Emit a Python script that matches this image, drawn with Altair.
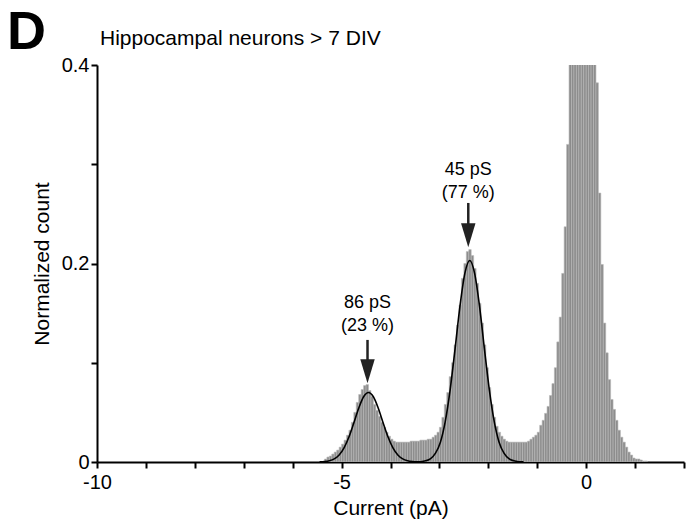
import altair as alt
import pandas as pd

# ---------------- data ----------------
bin_width = 0.05
first_bin = -5.35
counts = [
    # -5.35 .. -4.00
    0.003, 0.005, 0.006, 0.008, 0.010, 0.012, 0.015, 0.018, 0.022, 0.027,
    0.032, 0.040, 0.050, 0.060, 0.068, 0.073, 0.077, 0.078, 0.072, 0.066,
    0.058, 0.052, 0.046, 0.040, 0.035, 0.030, 0.026, 0.023,
    # -3.95 .. -3.00
    0.021, 0.020, 0.020, 0.020, 0.020, 0.020, 0.020, 0.021, 0.021, 0.021,
    0.021, 0.022, 0.022, 0.022, 0.023, 0.023, 0.025, 0.027, 0.030, 0.035,
    # -2.95 .. -2.00
    0.045, 0.058, 0.070, 0.086, 0.100, 0.118, 0.138, 0.158, 0.185, 0.200,
    0.212, 0.214, 0.208, 0.195, 0.180, 0.160, 0.140, 0.118, 0.095, 0.075,
    # -1.95 .. -1.00
    0.058, 0.045, 0.036, 0.030, 0.026, 0.023, 0.021, 0.020, 0.020, 0.020,
    0.020, 0.020, 0.020, 0.020, 0.020, 0.021, 0.023, 0.025, 0.027, 0.030,
    # -0.95 .. 0.00
    0.037, 0.042, 0.049, 0.056, 0.067, 0.079, 0.095, 0.121, 0.146, 0.190,
    0.237, 0.320, 0.450, 0.520, 0.600, 0.660, 0.700, 0.720, 0.720, 0.700,
    # 0.05 .. 1.20
    0.640, 0.560, 0.470, 0.382, 0.271, 0.199, 0.140, 0.110, 0.083, 0.063,
    0.053, 0.042, 0.032, 0.025, 0.020, 0.015, 0.010, 0.007, 0.004, 0.003,
    0.003, 0.002, 0.001, 0.001,
]
bin_start = [round(first_bin + i * bin_width, 2) for i in range(len(counts))]
bin_end = [round(b + bin_width, 2) for b in bin_start]

# fitted curve 1 (86 pS)
fit1_x = [-5.45, -5.35, -5.25, -5.15, -5.05, -4.95, -4.85, -4.75, -4.65, -4.55,
          -4.45, -4.35, -4.25, -4.15, -4.05, -3.95, -3.85, -3.75, -3.65, -3.55, -3.45]
fit1_y = [0.0001, 0.0004, 0.0012, 0.0031, 0.0070, 0.0142, 0.0252, 0.0394, 0.0542, 0.0657,
          0.0700, 0.0657, 0.0542, 0.0394, 0.0252, 0.0142, 0.0070, 0.0031, 0.0012, 0.0004, 0.0001]
# fitted curve 2 (45 pS)
fit2_x = [-3.48, -3.38, -3.28, -3.18, -3.08, -2.98, -2.88, -2.78, -2.68, -2.58, -2.48,
          -2.38, -2.28, -2.18, -2.08, -1.98, -1.88, -1.78, -1.68, -1.58, -1.48, -1.38, -1.28]
fit2_y = [0.0001, 0.0003, 0.0012, 0.0034, 0.0089, 0.020, 0.041, 0.073, 0.114, 0.157, 0.190,
          0.203, 0.190, 0.157, 0.114, 0.073, 0.041, 0.020, 0.0089, 0.0034, 0.0012, 0.0003, 0.0001]

# annotations
arrow_x = [-4.47, -2.41]
arrow_top = [0.123, 0.261]
arrow_head = [0.0915, 0.2285]
label_x = [-4.47, -4.47, -2.41, -2.41]
label_y = [0.160, 0.137, 0.294, 0.271]
label_text = ["86 pS", "(23 %)", "45 pS", "(77 %)"]

x_ticks = list(range(-10, 3))
y_ticks = [0, 0.1, 0.2, 0.3, 0.4]

# ---------------- chart ----------------
FONT = "Liberation Sans"
xs = alt.Scale(domain=[-10, 2], nice=False, zero=False)
ys = alt.Scale(domain=[0, 0.4], nice=False, zero=True)
x_axis = alt.Axis(values=x_ticks, title="Current (pA)",
                  labelExpr="datum.value % 5 == 0 ? '' + datum.value : ''",
                  labelFlush=False, labelOverlap=False, labelPadding=4, titlePadding=5)
y_axis = alt.Axis(values=y_ticks, title="Normalized count",
                  labelExpr="datum.value == 0 ? '0' : ((datum.value == 0.2 || datum.value == 0.4) ? '' + datum.value : '')",
                  labelOverlap=False, labelPadding=2, titlePadding=9)


def X(field):
    return alt.X(field, type="quantitative", scale=xs, axis=x_axis)


def Y(field):
    return alt.Y(field, type="quantitative", scale=ys, axis=y_axis)


hist = pd.DataFrame({"x": bin_start, "x2": bin_end, "y": counts,
                     "y0": [0.0] * len(counts)})
bars = alt.Chart(hist).mark_rect(clip=True, fill="#8d8d8d", stroke="#b9b9b9",
                                 strokeWidth=0.6).encode(
    x=X("x"), x2="x2", y=Y("y"), y2="y0")

fit1 = alt.Chart(pd.DataFrame({"x": fit1_x, "y": fit1_y})).mark_line(
    color="black", strokeWidth=1.6, interpolate="monotone").encode(x=X("x"), y=Y("y"))
fit2 = alt.Chart(pd.DataFrame({"x": fit2_x, "y": fit2_y})).mark_line(
    color="black", strokeWidth=1.6, interpolate="monotone").encode(x=X("x"), y=Y("y"))

arr = pd.DataFrame({"x": arrow_x, "y": arrow_top, "y2": arrow_head})
shafts = alt.Chart(arr).mark_rule(color="#222222", strokeWidth=2.5).encode(
    x=X("x"), y=Y("y"), y2="y2")
heads = alt.Chart(arr).mark_point(shape="M-0.6,-1L0.6,-1L0,1Z", filled=True,
                                  color="#222222", size=580, opacity=1).encode(
    x=X("x"), y=Y("y2"))

labels = alt.Chart(pd.DataFrame({"x": label_x, "y": label_y, "t": label_text})).mark_text(
    font=FONT, fontSize=18, color="black", align="center", baseline="middle").encode(
    x=X("x"), y=Y("y"), text="t:N")

one = pd.DataFrame({"a": [0]})
panel = alt.Chart(one).mark_text(font=FONT, fontSize=54, fontWeight="bold", color="black",
                                 align="left", baseline="alphabetic").encode(
    x=alt.value(-90), y=alt.value(-16), text=alt.value("D"))
title = alt.Chart(one).mark_text(font=FONT, fontSize=21, color="black",
                                 align="left", baseline="alphabetic").encode(
    x=alt.value(3), y=alt.value(-20), text=alt.value("Hippocampal neurons > 7 DIV"))

chart = alt.layer(bars, fit1, fit2, shafts, heads, labels, panel, title).properties(
    width=587, height=397,
    autosize=alt.AutoSizeParams(type="none"),
    padding={"left": 97, "top": 65, "right": 7, "bottom": 66},
).configure_view(stroke=None).configure_axis(
    grid=False, domainColor="black", domainWidth=2, tickColor="black", tickWidth=2,
    tickSize=6, labelFont=FONT, labelFontSize=20, labelColor="black",
    titleFont=FONT, titleFontSize=21, titleFontWeight="normal", titleColor="black",
)

chart.save("out.html", embed_options={"renderer": "svg", "actions": False})
